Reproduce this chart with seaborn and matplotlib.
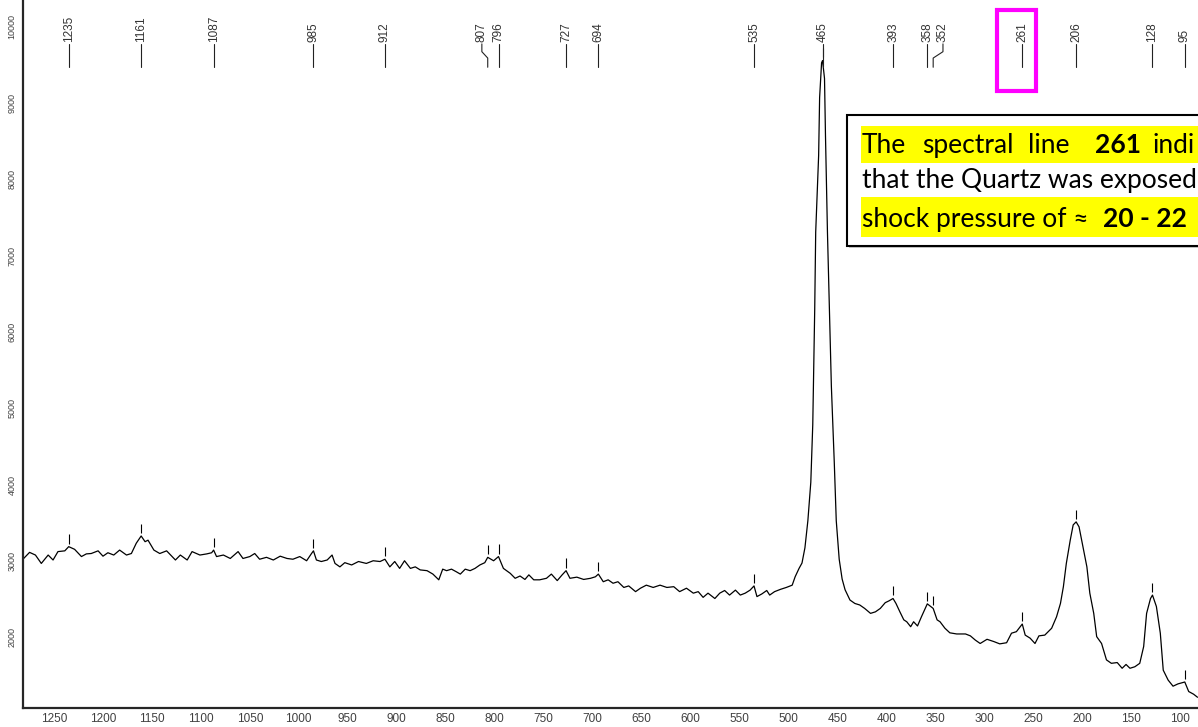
import numpy as np
import pandas as pd
import matplotlib
matplotlib.use("Agg")
from matplotlib import pyplot as plt
from matplotlib.patches import Rectangle
import matplotlib.transforms as mtransforms
import seaborn as sns

# Raman spectrum (wavenumber in cm-1, intensity in counts)
wavenumber = [
    1281, 1275, 1269, 1263, 1256, 1251, 1246, 1239, 1235, 1229,
    1222, 1217, 1212, 1205, 1200, 1195, 1189, 1183, 1176, 1171,
    1166, 1161, 1157, 1154, 1148, 1142, 1135, 1126, 1121, 1114,
    1109, 1101, 1094, 1089, 1087, 1084, 1077, 1070, 1062, 1057,
    1050, 1045, 1040, 1033, 1026, 1019, 1012, 1006, 999, 992,
    987, 985, 982, 977, 971, 966, 963, 958, 953, 946,
    939, 931, 924, 917, 912, 907, 902, 897, 892, 886,
    881, 876, 869, 863, 857, 853, 849, 844, 839, 835,
    830, 825, 820, 815, 810, 807, 801, 796, 791, 784,
    779, 774, 769, 765, 760, 754, 747, 742, 736, 731,
    727, 723, 716, 709, 702, 697, 694, 689, 684, 679,
    674, 668, 663, 656, 651, 645, 638, 631, 624, 617,
    611, 604, 597, 592, 587, 582, 575, 570, 565, 560,
    554, 549, 544, 539, 535, 532, 527, 522, 519, 514,
    508, 502, 496, 493, 489, 486, 483, 480, 477, 475,
    474, 473, 472, 469, 468, 466, 465, 463, 462, 460,
    458, 456, 453, 451, 448, 445, 442, 437, 432, 427,
    422, 416, 411, 406, 401, 397, 393, 390, 386, 382,
    379, 375, 372, 368, 364, 358, 355, 352, 348, 345,
    340, 335, 328, 319, 314, 309, 304, 297, 290, 284,
    277, 272, 267, 261, 258, 253, 248, 244, 238, 231,
    226, 222, 219, 216, 212, 209, 206, 203, 199, 195,
    192, 188, 185, 180, 175, 170, 164, 159, 155, 151,
    146, 141, 137, 134, 130, 128, 124, 120, 117, 112,
    107, 102, 95, 91, 86, 82,
]
intensity = [
    3030, 3110, 3075, 2965, 3075, 3010, 3120, 3130, 3185, 3150,
    3055, 3090, 3095, 3130, 3060, 3105, 3075, 3140, 3075, 3095,
    3230, 3325, 3250, 3270, 3140, 3095, 3130, 3010, 3075, 3010,
    3120, 3075, 3090, 3105, 3140, 3055, 3075, 3030, 3120, 3030,
    3055, 3095, 3020, 3045, 3010, 3060, 3030, 3020, 3055, 3000,
    3095, 3130, 3010, 2990, 3010, 3075, 2965, 2920, 2975, 2945,
    2990, 2965, 3000, 2990, 3020, 2920, 2990, 2900, 3000, 2900,
    2920, 2880, 2870, 2825, 2750, 2890, 2870, 2890, 2855, 2825,
    2890, 2870, 2900, 2945, 2975, 3045, 3000, 3055, 2900, 2835,
    2770, 2800, 2755, 2815, 2750, 2750, 2770, 2825, 2740, 2815,
    2870, 2770, 2785, 2755, 2770, 2790, 2825, 2725, 2750, 2705,
    2725, 2650, 2670, 2595, 2640, 2680, 2650, 2680, 2650, 2660,
    2595, 2640, 2575, 2595, 2520, 2575, 2505, 2575, 2610, 2550,
    2615, 2550, 2575, 2615, 2670, 2530, 2565, 2610, 2550, 2595,
    2625, 2650, 2680, 2790, 2900, 2970, 3170, 3525, 4030, 4785,
    5540, 6300, 7310, 8315, 9075, 9530, 9560, 9325, 8570, 7310,
    6300, 5290, 4280, 3525, 3020, 2760, 2620, 2485, 2440, 2420,
    2375, 2310, 2330, 2375, 2450, 2475, 2505, 2440, 2330, 2225,
    2200, 2135, 2200, 2145, 2265, 2435, 2405, 2375, 2225, 2200,
    2115, 2055, 2040, 2040, 2015, 1960, 1915, 1970, 1940, 1910,
    1925, 2050, 2070, 2170, 2025, 1985, 1915, 2015, 2025, 2115,
    2265, 2440, 2660, 2965, 3270, 3470, 3510, 3445, 3185, 2920,
    2575, 2310, 2005, 1915, 1700, 1655, 1665, 1590, 1640, 1590,
    1610, 1655, 1875, 2310, 2505, 2550, 2400, 2050, 1565, 1435,
    1355, 1385, 1410, 1285, 1250, 1210,
]

peak_positions = [1235, 1161, 1087, 985, 912, 807, 796, 727, 694, 535,
                  465, 393, 358, 352, 261, 206, 128, 95]
# labels that were pushed sideways to avoid overlapping
label_shift = {807: 6, 352: -10}

x_ticks = list(range(100, 1251, 50))
y_ticks = list(range(2000, 10001, 1000))

# the note runs off the right edge in the reference; only the visible part is kept
note_line1 = [("The", 862, "normal"), ("spectral", 922, "normal"), ("line", 1028, "normal"),
              ("261", 1095, "bold"), ("indi", 1152, "normal")]
note_line2 = [("that the Quartz was exposed", 862, "normal")]
note_line3 = [("shock pressure of \u2248", 862, "normal"), ("20 - 22", 1103, "bold")]

sns.set_style("white")
plt.rcParams['font.family'] = ['Liberation Sans', 'DejaVu Sans']

W, H = 1198, 727
fig = plt.figure(figsize=(W / 100, H / 100), dpi=100)
ax = fig.add_axes([23 / W, 19 / H, 1 - 23 / W, 708 / H])

spec = pd.DataFrame({'wavenumber': wavenumber, 'intensity': intensity})
sns.lineplot(data=spec, x='wavenumber', y='intensity', ax=ax, color='black',
             lw=0.9, estimator=None, sort=False)

ax.set_xlim(1281.7, 81.5)
ax.set_ylim(1069, 10354)
ax.set_xticks(x_ticks)
ax.set_yticks(y_ticks)
ax.set_xlabel('')
ax.set_ylabel('')
ax.spines['top'].set_visible(False)
ax.spines['right'].set_visible(False)
ax.spines['left'].set_linewidth(1.6)
ax.spines['bottom'].set_linewidth(1.6)
ax.tick_params(axis='x', length=2.2, width=0.8, color='#404040', labelcolor='#404040',
               labelsize=8.5, pad=1.5)
ax.tick_params(axis='y', length=2.2, width=0.8, color='#404040', labelcolor='#404040',
               labelsize=6.5, pad=2.5)
for lab in ax.get_yticklabels():
    lab.set_rotation(90)
    lab.set_va('center')

# small marks above each detected peak
xs = spec['wavenumber'].to_numpy()[::-1]
ys = spec['intensity'].to_numpy()[::-1]
for p in peak_positions:
    h = np.interp(p, xs, ys)
    ax.vlines(p, h + 40, h + 160, color='black', lw=0.8)

# peak labels along the top
trans = mtransforms.blended_transform_factory(ax.transData, ax.transAxes)
for p in peak_positions:
    lx = p + label_shift.get(p, 0)
    ax.plot([p, p, lx, lx], [0.905, 0.918, 0.927, 0.938], transform=trans,
            color='#222222', lw=0.8)
    ax.text(lx, 0.940, str(p), rotation=90, ha='center', va='bottom',
            transform=trans, fontsize=8.5, color='#333333')

# magenta highlight around the 261 label
ax.add_patch(Rectangle((287, 0.871), 247 - 287, 0.986 - 0.871, transform=trans,
                       fill=False, edgecolor='#FF00FF', lw=3, clip_on=False))


def fxy(px, py):
    return px / W, 1 - py / H


# annotation box (pixel layout converted to figure fraction)
x0, y0 = fxy(849, 248)
fig.add_artist(Rectangle((x0, y0), 400 / W, 131 / H, transform=fig.transFigure,
                         facecolor='#c8c8c8', edgecolor='none'))
x0, y0 = fxy(847, 246)
fig.add_artist(Rectangle((x0, y0), 400 / W, 131 / H, transform=fig.transFigure,
                         facecolor='white', edgecolor='black', lw=1.5))
for top, bot in [(126, 163), (197, 237)]:
    x0, y0 = fxy(861, bot)
    fig.add_artist(Rectangle((x0, y0), 400 / W, (bot - top) / H, transform=fig.transFigure,
                             facecolor='#FFFF00', edgecolor='none'))

for line, base in [(note_line1, 153), (note_line2, 188), (note_line3, 227)]:
    for txt, px, weight in line:
        fx, fy = fxy(px, base)
        fig.text(fx, fy, txt, fontsize=19, fontweight=weight, va='baseline', ha='left',
                 family=['Lato', 'DejaVu Sans'], color='black')

plt.savefig('out.png', dpi=100)
